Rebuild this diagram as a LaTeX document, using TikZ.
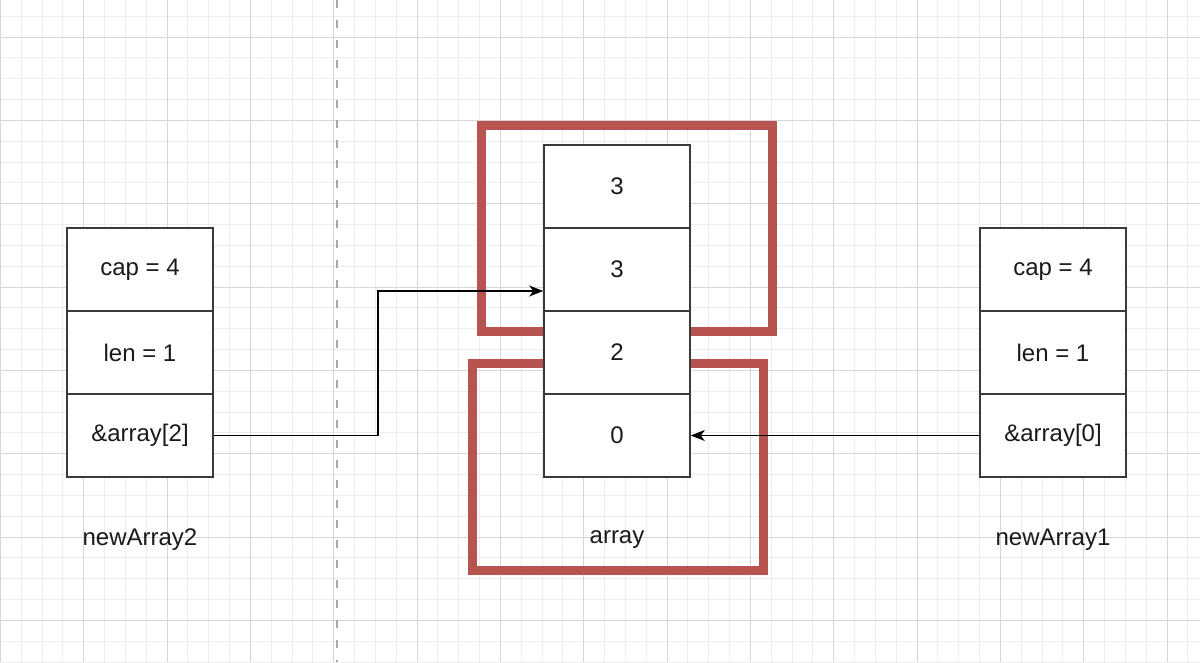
\documentclass[tikz,border=0pt]{standalone}
\usepackage{fontspec}
\setmainfont{Liberation Sans}
\usetikzlibrary{arrows.meta,calc}
\definecolor{gridminor}{HTML}{EDEDED}
\definecolor{gridmajor}{HTML}{D6D6D6}
\definecolor{dashgray}{HTML}{A8A8A8}
\definecolor{redstroke}{HTML}{B85450}
\definecolor{boxline}{HTML}{3A3A3A}
\definecolor{txt}{HTML}{1A1A1A}
\begin{document}
\begin{tikzpicture}[x=1pt,y=-1pt,
  cell/.style={draw=boxline, line width=1.6pt, fill=white, minimum width=146pt, minimum height=83pt,
    inner sep=0pt, text=txt, font=\fontsize{24}{28}\selectfont},
  lbl/.style={text=txt, inner sep=0pt, font=\fontsize{24}{28}\selectfont},
  redbox/.style={draw=redstroke, line width=9pt},
  minor/.style={gridminor, line width=1pt},
  major/.style={gridmajor, line width=1.5pt},
  ptr/.style={draw=black, line width=1.2pt, -{Stealth[length=14pt,width=11pt,inset=4pt]}}]
\useasboundingbox (0,0) rectangle (1200,662);
\fill[white] (0,0) rectangle (1200,662);
\begin{scope}
\clip (0,0) rectangle (1200,662);
\foreach \i in {0,...,58} {\pgfmathsetmacro\xx{round(\i*20.8333)+0.5}
  \draw[minor] (\xx,0) -- (\xx,662);}
\foreach \j in {0,...,31} {\pgfmathsetmacro\yy{round(15.833+\j*20.8333)+0.5}
  \draw[minor] (0,\yy) -- (1200,\yy);}
\foreach \i in {0,...,14} {\pgfmathsetmacro\xx{round(\i*83.3333)+0.5}
  \draw[major] (\xx,0) -- (\xx,662);}
\foreach \j in {0,...,7} {\pgfmathsetmacro\yy{round(36.667+\j*83.3333)+0.5}
  \draw[major] (0,\yy) -- (1200,\yy);}
\end{scope}
% dashed separator
\draw[dashgray, line width=2pt, dash pattern=on 8pt off 12pt] (337,0) -- (337,662);
% red groupings
\draw[redbox] (481,125) rectangle (772,331);
\draw[redbox] (472,363) rectangle (763,570);
% left struct
\node[cell] (l1) at (140,269.5) {cap = 4};
\node[cell] (l2) at (140,352.5) {len = 1};
\node[cell] (l3) at (140,435.5) {\&array[2]};
\node[lbl] (ln) at (140,540) {newArray2};
% array
\node[cell] (a1) at (617,186.5) {3};
\node[cell] (a2) at (617,269.5) {3};
\node[cell] (a3) at (617,352.5) {2};
\node[cell] (a4) at (617,435.5) {0};
\node[lbl] (an) at (617,540) {array};
% right struct
\node[cell] (r1) at (1053,269.5) {cap = 4};
\node[cell] (r2) at (1053,352.5) {len = 1};
\node[cell] (r3) at (1053,435.5) {\&array[0]};
\node[lbl] (rn) at (1053,540) {newArray1};
% pointers
\coordinate (bend) at (378,291);
\coordinate (a2in) at ($(a2.west)+(0,21.5)$);
\draw[ptr] (l3.east) -| (bend) -- (a2in);
\draw[ptr] (r3.west) -- (a4.east);
\end{tikzpicture}
\end{document}
